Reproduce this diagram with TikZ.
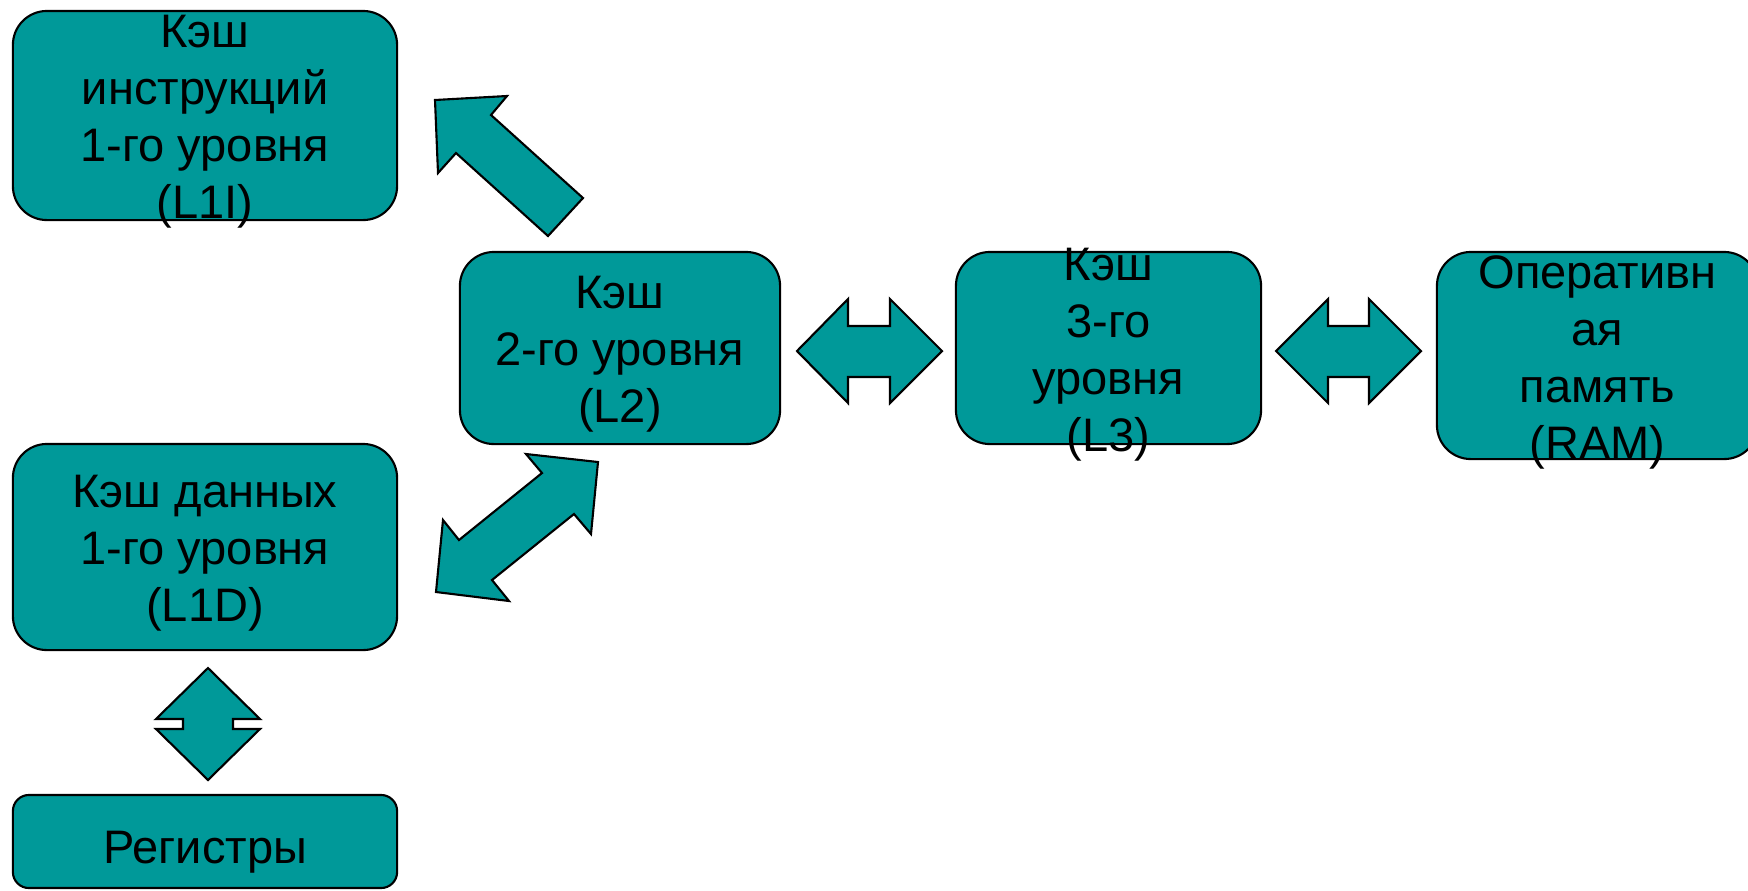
\documentclass[tikz,border=0pt]{standalone}
\usepackage{fontspec}
\setmainfont{Liberation Sans}
\definecolor{tealfill}{RGB}{0,153,153}
\begin{document}
\begin{tikzpicture}[x=0.01cm,y=-0.01cm,
  box/.style={draw=black, line width=0.6pt, fill=tealfill, inner sep=0pt, rounded corners=0.34cm},
  txt/.style={font=\fontsize{13.37pt}{16.2pt}\selectfont, align=center, inner sep=0pt, yshift=-0.065cm},
  blockarrow/.style={draw=black, line width=0.6pt, fill=tealfill, line join=miter}]
\useasboundingbox (0,0) rectangle (1748,890);
% boxes
\node[box, minimum width=3.84cm, minimum height=2.09cm] (l1i) at (205,115.5) {};
\node[box, minimum width=3.20cm, minimum height=1.92cm] (l2) at (620,348) {};
\node[box, minimum width=3.05cm, minimum height=1.92cm] (l3) at (1108.5,348) {};
\node[box, minimum width=3.21cm, minimum height=2.07cm] (ram) at (1597.5,355.5) {};
\node[box, minimum width=3.84cm, minimum height=2.06cm] (l1d) at (205,547) {};
\node[box, minimum width=3.84cm, minimum height=0.93cm, rounded corners=0.16cm] (reg) at (205,841.5) {};
% block arrows
\draw[blockarrow] (435,100) -- (507,96) -- (491,115) -- (583,198) -- (548,236) -- (456,153) -- (438,173) -- cycle;
\draw[blockarrow] (598,462) -- (591,534) -- (574,514) -- (492,580) -- (509,601) -- (436,592) -- (443,520) -- (459,540) -- (542,473) -- (526,454) -- cycle;
\draw[blockarrow] (797,351) -- (848,299) -- (848,326) -- (890,326) -- (890,299) -- (942,351) -- (890,403) -- (890,377) -- (848,377) -- (848,403) -- cycle;
\draw[blockarrow] (1276,351) -- (1328,299) -- (1328,326) -- (1369,326) -- (1369,299) -- (1421,351) -- (1369,403) -- (1369,377) -- (1328,377) -- (1328,403) -- cycle;
\draw[blockarrow] (208,668) -- (260,719) -- (233,719) -- (233,729) -- (260,729) -- (208,780) -- (156,729) -- (183,729) -- (183,719) -- (156,719) -- cycle;
% texts
\node[txt] (l1itext) at (l1i.center) {Кэш\\инструкций\\1-го уровня\\(L1I)};
\node[txt] (l2text) at (l2.center) {Кэш\\2-го уровня\\(L2)};
\node[txt] (l3text) at (l3.center) {Кэш\\3-го\\уровня\\(L3)};
\node[txt] (ramtext) at (ram.center) {Оперативн\\ая\\память\\(RAM)};
\node[txt] (l1dtext) at (l1d.center) {Кэш данных\\1-го уровня\\(L1D)};
\node[txt, yshift=-0.04cm] (regtext) at (reg.center) {Регистры};
\end{tikzpicture}
\end{document}
